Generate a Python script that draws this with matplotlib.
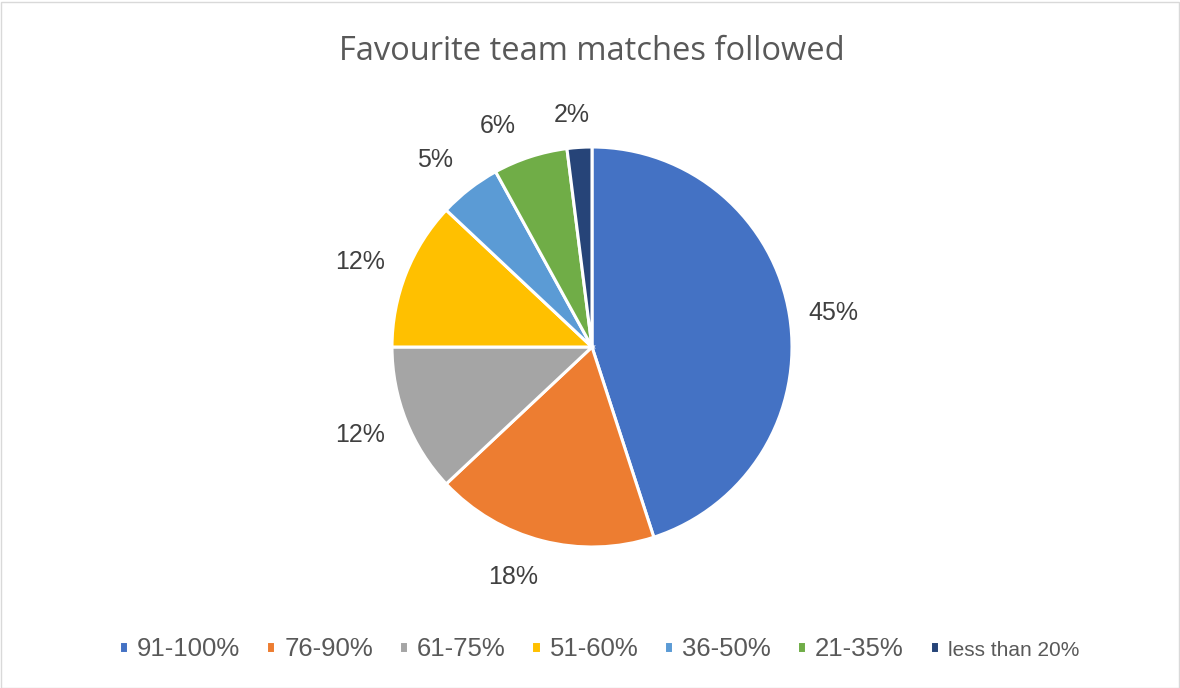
import numpy as np
import matplotlib.pyplot as plt
from matplotlib.patches import Rectangle

# share of favourite team matches followed
categories = ["91-100%", "76-90%", "61-75%", "51-60%", "36-50%", "21-35%", "less than 20%"]
shares = [45, 18, 12, 12, 5, 6, 2]
colors = ["#4472C4", "#ED7D31", "#A5A5A5", "#FFC000", "#5B9BD5", "#70AD47", "#264478"]

plt.rcParams["font.family"] = ["Liberation Sans", "DejaVu Sans"]

W, H = 1180, 688
fig = plt.figure(figsize=(W / 100, H / 100), dpi=100)

# pie axes: centre (592, 347) px, radius 200 px
cx, cy, half = 592, H - 347, 250
ax = fig.add_axes([(cx - half) / W, (cy - half) / H, 2 * half / W, 2 * half / H])
wedges, _ = ax.pie(shares, colors=colors, startangle=90, counterclock=False, radius=1,
                   wedgeprops=dict(edgecolor="white", linewidth=2.2))

# outside-end labels: mid angle of each wedge plus a small nudge (deg) and radius
nudge = [-1, -4.6, -0.8, 1.5, 2.2, 5, 1.4]
lab_r = [1.217, 1.216, 1.24, 1.235, 1.22, 1.203, 1.164]
for w, v, dt, r in zip(wedges, shares, nudge, lab_r):
    mid = np.deg2rad((w.theta1 + w.theta2) / 2 + dt)
    ax.text(r * np.cos(mid), r * np.sin(mid), f"{v}%", ha="center", va="center",
            fontsize=18, color="#404040")

ax.set_xlim(-1.25, 1.25)
ax.set_ylim(-1.25, 1.25)
ax.set_aspect("equal")
ax.axis("off")

fig.text(592 / W, 1 - 51 / H, "Favourite team matches followed", ha="center", va="center",
         fontsize=23.5, color="#595959", family=["Open Sans", "DejaVu Sans"])

leg = fig.legend(wedges, categories, loc="center", bbox_to_anchor=(599 / W, 1 - 649 / H),
                 ncol=7, frameon=False, handlelength=0.36, handleheight=0.36,
                 handletextpad=0.35, columnspacing=1.0,
                 prop=dict(size=18.5))
for t in leg.get_texts():
    t.set_color("#595959")
leg.get_texts()[-1].set_fontsize(15)

# thin outer frame
fig.patches.append(Rectangle((0.5 / W, 0.5 / H), 1 - 2 / W, 1 - 2 / H, transform=fig.transFigure,
                             fill=False, edgecolor="#D9D9D9", linewidth=1))

fig.savefig("out.png", dpi=100)
